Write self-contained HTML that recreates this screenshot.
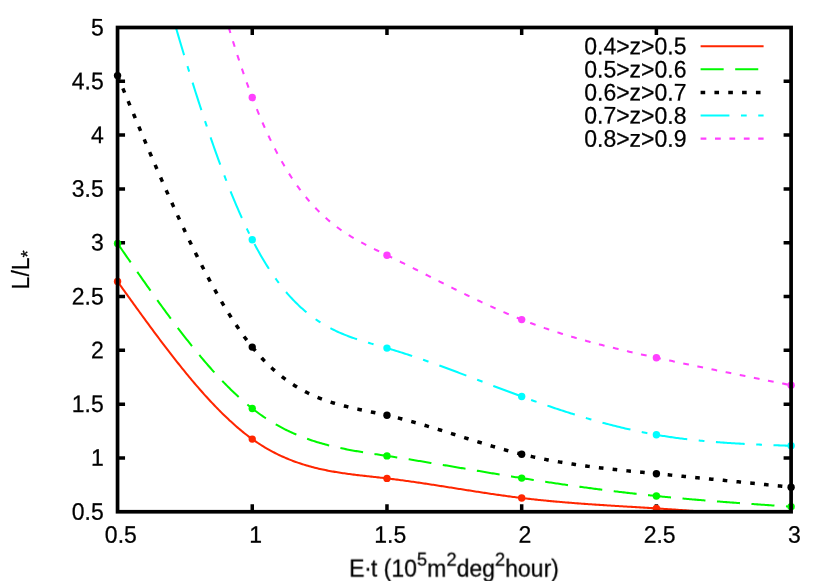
<!DOCTYPE html><html><head><meta charset="utf-8"><title>plot</title><style>
html,body{margin:0;padding:0;background:#fff}
body{width:830px;height:581px;position:relative;overflow:hidden;font-family:"Liberation Sans",sans-serif;color:#000}
.t{position:absolute;left:0;top:0;font-size:23px;line-height:30px;height:30px;white-space:nowrap;transform-origin:0 0;-webkit-text-stroke:0.25px #000}
.r{text-align:right;width:200px}
.c{text-align:center;width:200px}
sup,sub{font-size:0.8em;line-height:0;vertical-align:baseline;position:relative}
sup{top:-11.3px}sub{top:5.4px}
.d{letter-spacing:-1.27px;position:relative;top:-1.4px;left:-0.4px}
</style></head><body>
<svg width="830" height="581" viewBox="0 0 830 581" style="position:absolute;left:0;top:0">
<rect width="830" height="581" fill="#fff"/>
<path d="M117.55,457.94 h7.5 M791.1,457.94 h-7.5" stroke="#000" stroke-width="3.5"/>
<path d="M117.55,404.14 h7.5 M791.1,404.14 h-7.5" stroke="#000" stroke-width="3.5"/>
<path d="M117.55,350.33 h7.5 M791.1,350.33 h-7.5" stroke="#000" stroke-width="3.5"/>
<path d="M117.55,296.53 h7.5 M791.1,296.53 h-7.5" stroke="#000" stroke-width="3.5"/>
<path d="M117.55,242.72 h7.5 M791.1,242.72 h-7.5" stroke="#000" stroke-width="3.5"/>
<path d="M117.55,188.92 h7.5 M791.1,188.92 h-7.5" stroke="#000" stroke-width="3.5"/>
<path d="M117.55,135.11 h7.5 M791.1,135.11 h-7.5" stroke="#000" stroke-width="3.5"/>
<path d="M117.55,81.31 h7.5 M791.1,81.31 h-7.5" stroke="#000" stroke-width="3.5"/>
<path d="M252.26,511.75 v-7.5 M252.26,27.5 v7.5" stroke="#000" stroke-width="3.5"/>
<path d="M386.97,511.75 v-7.5 M386.97,27.5 v7.5" stroke="#000" stroke-width="3.5"/>
<path d="M521.68,511.75 v-7.5 M521.68,27.5 v7.5" stroke="#000" stroke-width="3.5"/>
<path d="M656.39,511.75 v-7.5 M656.39,27.5 v7.5" stroke="#000" stroke-width="3.5"/>
<path d="M117.55,281.50 L118.90,283.38 L120.25,285.27 L121.60,287.15 L122.95,289.04 L124.30,290.92 L125.65,292.80 L127.00,294.68 L128.35,296.56 L129.70,298.44 L131.05,300.31 L132.40,302.19 L133.75,304.06 L135.10,305.93 L136.45,307.80 L137.80,309.66 L139.15,311.52 L140.50,313.38 L141.85,315.24 L143.20,317.09 L144.55,318.94 L145.90,320.79 L147.25,322.63 L148.60,324.47 L149.95,326.30 L151.29,328.13 L152.64,329.95 L153.99,331.77 L155.34,333.59 L156.69,335.40 L158.04,337.20 L159.39,339.00 L160.74,340.80 L162.09,342.58 L163.44,344.36 L164.79,346.14 L166.14,347.91 L167.49,349.67 L168.84,351.42 L170.19,353.17 L171.54,354.91 L172.89,356.65 L174.24,358.37 L175.59,360.09 L176.94,361.80 L178.29,363.50 L179.64,365.20 L180.99,366.88 L182.34,368.56 L183.69,370.23 L185.04,371.89 L186.39,373.54 L187.74,375.18 L189.09,376.81 L190.44,378.43 L191.79,380.04 L193.14,381.64 L194.49,383.23 L195.84,384.81 L197.19,386.38 L198.54,387.94 L199.89,389.49 L201.24,391.03 L202.59,392.55 L203.94,394.07 L205.29,395.57 L206.64,397.06 L207.99,398.54 L209.34,400.00 L210.69,401.45 L212.04,402.89 L213.39,404.32 L214.74,405.74 L216.09,407.14 L217.44,408.53 L218.78,409.90 L220.13,411.26 L221.48,412.61 L222.83,413.94 L224.18,415.26 L225.53,416.56 L226.88,417.85 L228.23,419.12 L229.58,420.38 L230.93,421.62 L232.28,422.85 L233.63,424.06 L234.98,425.26 L236.33,426.44 L237.68,427.61 L239.03,428.75 L240.38,429.89 L241.73,431.00 L243.08,432.10 L244.43,433.18 L245.78,434.24 L247.13,435.29 L248.48,436.32 L249.83,437.33 L251.18,438.32 L252.53,439.29 L253.88,440.25 L255.23,441.19 L256.58,442.11 L257.93,443.01 L259.28,443.89 L260.63,444.76 L261.98,445.61 L263.33,446.45 L264.68,447.26 L266.03,448.06 L267.38,448.85 L268.73,449.62 L270.08,450.37 L271.43,451.10 L272.78,451.83 L274.13,452.53 L275.48,453.22 L276.83,453.90 L278.18,454.56 L279.53,455.21 L280.88,455.84 L282.23,456.46 L283.58,457.06 L284.93,457.66 L286.27,458.23 L287.62,458.80 L288.97,459.35 L290.32,459.89 L291.67,460.42 L293.02,460.93 L294.37,461.43 L295.72,461.92 L297.07,462.40 L298.42,462.87 L299.77,463.32 L301.12,463.77 L302.47,464.20 L303.82,464.63 L305.17,465.04 L306.52,465.44 L307.87,465.83 L309.22,466.21 L310.57,466.59 L311.92,466.95 L313.27,467.30 L314.62,467.65 L315.97,467.98 L317.32,468.31 L318.67,468.63 L320.02,468.94 L321.37,469.24 L322.72,469.54 L324.07,469.82 L325.42,470.10 L326.77,470.37 L328.12,470.64 L329.47,470.90 L330.82,471.15 L332.17,471.39 L333.52,471.63 L334.87,471.87 L336.22,472.09 L337.57,472.31 L338.92,472.53 L340.27,472.74 L341.62,472.95 L342.97,473.15 L344.32,473.35 L345.67,473.54 L347.02,473.73 L348.37,473.91 L349.72,474.09 L351.07,474.27 L352.42,474.44 L353.76,474.61 L355.11,474.78 L356.46,474.95 L357.81,475.11 L359.16,475.27 L360.51,475.43 L361.86,475.58 L363.21,475.74 L364.56,475.89 L365.91,476.04 L367.26,476.19 L368.61,476.34 L369.96,476.49 L371.31,476.64 L372.66,476.79 L374.01,476.94 L375.36,477.09 L376.71,477.23 L378.06,477.38 L379.41,477.53 L380.76,477.69 L382.11,477.84 L383.46,477.99 L384.81,478.15 L386.16,478.30 L387.51,478.46 L388.86,478.63 L390.21,478.79 L391.56,478.95 L392.91,479.12 L394.26,479.29 L395.61,479.46 L396.96,479.64 L398.31,479.81 L399.66,479.99 L401.01,480.17 L402.36,480.35 L403.71,480.53 L405.06,480.71 L406.41,480.90 L407.76,481.08 L409.11,481.27 L410.46,481.46 L411.81,481.65 L413.16,481.84 L414.51,482.04 L415.86,482.23 L417.21,482.43 L418.56,482.62 L419.91,482.82 L421.25,483.02 L422.60,483.22 L423.95,483.42 L425.30,483.63 L426.65,483.83 L428.00,484.03 L429.35,484.24 L430.70,484.45 L432.05,484.65 L433.40,484.86 L434.75,485.07 L436.10,485.28 L437.45,485.49 L438.80,485.70 L440.15,485.91 L441.50,486.12 L442.85,486.33 L444.20,486.54 L445.55,486.75 L446.90,486.97 L448.25,487.18 L449.60,487.39 L450.95,487.61 L452.30,487.82 L453.65,488.03 L455.00,488.25 L456.35,488.46 L457.70,488.68 L459.05,488.89 L460.40,489.10 L461.75,489.32 L463.10,489.53 L464.45,489.74 L465.80,489.95 L467.15,490.17 L468.50,490.38 L469.85,490.59 L471.20,490.80 L472.55,491.01 L473.90,491.22 L475.25,491.43 L476.60,491.64 L477.95,491.85 L479.30,492.06 L480.65,492.27 L482.00,492.47 L483.35,492.68 L484.70,492.88 L486.05,493.09 L487.40,493.29 L488.74,493.49 L490.09,493.69 L491.44,493.89 L492.79,494.09 L494.14,494.29 L495.49,494.48 L496.84,494.68 L498.19,494.87 L499.54,495.07 L500.89,495.26 L502.24,495.45 L503.59,495.63 L504.94,495.82 L506.29,496.01 L507.64,496.19 L508.99,496.37 L510.34,496.55 L511.69,496.73 L513.04,496.91 L514.39,497.09 L515.74,497.26 L517.09,497.43 L518.44,497.60 L519.79,497.77 L521.14,497.93 L522.49,498.10 L523.84,498.26 L525.19,498.42 L526.54,498.58 L527.89,498.73 L529.24,498.89 L530.59,499.04 L531.94,499.19 L533.29,499.34 L534.64,499.49 L535.99,499.63 L537.34,499.77 L538.69,499.92 L540.04,500.05 L541.39,500.19 L542.74,500.33 L544.09,500.46 L545.44,500.60 L546.79,500.73 L548.14,500.86 L549.49,500.99 L550.84,501.11 L552.19,501.24 L553.54,501.36 L554.89,501.48 L556.23,501.61 L557.58,501.73 L558.93,501.84 L560.28,501.96 L561.63,502.08 L562.98,502.19 L564.33,502.30 L565.68,502.42 L567.03,502.53 L568.38,502.64 L569.73,502.74 L571.08,502.85 L572.43,502.96 L573.78,503.06 L575.13,503.16 L576.48,503.27 L577.83,503.37 L579.18,503.47 L580.53,503.57 L581.88,503.67 L583.23,503.77 L584.58,503.86 L585.93,503.96 L587.28,504.05 L588.63,504.15 L589.98,504.24 L591.33,504.34 L592.68,504.43 L594.03,504.52 L595.38,504.61 L596.73,504.70 L598.08,504.79 L599.43,504.88 L600.78,504.97 L602.13,505.05 L603.48,505.14 L604.83,505.23 L606.18,505.31 L607.53,505.40 L608.88,505.49 L610.23,505.57 L611.58,505.65 L612.93,505.74 L614.28,505.82 L615.63,505.91 L616.98,505.99 L618.33,506.07 L619.68,506.15 L621.03,506.24 L622.38,506.32 L623.72,506.40 L625.07,506.48 L626.42,506.56 L627.77,506.65 L629.12,506.73 L630.47,506.81 L631.82,506.89 L633.17,506.97 L634.52,507.05 L635.87,507.13 L637.22,507.22 L638.57,507.30 L639.92,507.38 L641.27,507.46 L642.62,507.54 L643.97,507.63 L645.32,507.71 L646.67,507.79 L648.02,507.88 L649.37,507.96 L650.72,508.04 L652.07,508.13 L653.42,508.21 L654.77,508.30 L656.12,508.38 L657.47,508.47 L658.82,508.56 L660.17,508.64 L661.52,508.73 L662.87,508.82 L664.22,508.91 L665.57,508.99 L666.92,509.08 L668.27,509.17 L669.62,509.26 L670.97,509.35 L672.32,509.44 L673.67,509.53 L675.02,509.63 L676.37,509.72 L677.72,509.81 L679.07,509.90 L680.42,510.00 L681.77,510.09 L683.12,510.18 L684.47,510.28 L685.82,510.37 L687.17,510.47 L688.52,510.56 L689.87,510.66 L691.21,510.75 L692.56,510.85 L693.91,510.95 L695.26,511.04 L696.61,511.14 L697.96,511.24 L699.31,511.34 L700.66,511.44 L702.01,511.53 L703.36,511.63 L704.71,511.73 L704.95,511.75" fill="none" stroke="#ff2600" stroke-width="2.05"/>
<path d="M117.55,243.40 L118.90,245.35 L120.25,247.31 L121.60,249.26 L122.95,251.21 L124.30,253.16 L125.65,255.11 L127.00,257.06 L128.35,259.01 L129.70,260.95 L131.05,262.90 L132.40,264.84 L133.75,266.78 L135.10,268.72 L136.45,270.66 L137.80,272.59 L139.15,274.52 L140.50,276.45 L141.85,278.37 L143.20,280.30 L144.55,282.21 L145.90,284.13 L147.25,286.04 L148.60,287.95 L149.95,289.85 L151.29,291.75 L152.64,293.64 L153.99,295.53 L155.34,297.42 L156.69,299.30 L158.04,301.17 L159.39,303.04 L160.74,304.90 L162.09,306.76 L163.44,308.61 L164.79,310.46 L166.14,312.30 L167.49,314.13 L168.84,315.96 L170.19,317.78 L171.54,319.59 L172.89,321.39 L174.24,323.19 L175.59,324.98 L176.94,326.77 L178.29,328.54 L179.64,330.31 L180.99,332.07 L182.34,333.82 L183.69,335.56 L185.04,337.29 L186.39,339.01 L187.74,340.73 L189.09,342.43 L190.44,344.13 L191.79,345.81 L193.14,347.49 L194.49,349.15 L195.84,350.81 L197.19,352.46 L198.54,354.09 L199.89,355.71 L201.24,357.33 L202.59,358.93 L203.94,360.52 L205.29,362.10 L206.64,363.66 L207.99,365.22 L209.34,366.76 L210.69,368.29 L212.04,369.81 L213.39,371.32 L214.74,372.81 L216.09,374.29 L217.44,375.76 L218.78,377.21 L220.13,378.65 L221.48,380.08 L222.83,381.49 L224.18,382.89 L225.53,384.28 L226.88,385.65 L228.23,387.00 L229.58,388.34 L230.93,389.67 L232.28,390.98 L233.63,392.28 L234.98,393.56 L236.33,394.82 L237.68,396.07 L239.03,397.30 L240.38,398.52 L241.73,399.72 L243.08,400.90 L244.43,402.07 L245.78,403.22 L247.13,404.35 L248.48,405.47 L249.83,406.57 L251.18,407.65 L252.53,408.71 L253.88,409.76 L255.23,410.78 L256.58,411.79 L257.93,412.79 L259.28,413.76 L260.63,414.72 L261.98,415.66 L263.33,416.59 L264.68,417.50 L266.03,418.39 L267.38,419.26 L268.73,420.12 L270.08,420.97 L271.43,421.80 L272.78,422.61 L274.13,423.41 L275.48,424.20 L276.83,424.97 L278.18,425.72 L279.53,426.46 L280.88,427.19 L282.23,427.90 L283.58,428.60 L284.93,429.29 L286.27,429.96 L287.62,430.62 L288.97,431.26 L290.32,431.90 L291.67,432.52 L293.02,433.12 L294.37,433.72 L295.72,434.30 L297.07,434.87 L298.42,435.43 L299.77,435.98 L301.12,436.52 L302.47,437.05 L303.82,437.56 L305.17,438.07 L306.52,438.56 L307.87,439.04 L309.22,439.52 L310.57,439.98 L311.92,440.43 L313.27,440.88 L314.62,441.31 L315.97,441.74 L317.32,442.15 L318.67,442.56 L320.02,442.96 L321.37,443.35 L322.72,443.73 L324.07,444.10 L325.42,444.47 L326.77,444.83 L328.12,445.18 L329.47,445.52 L330.82,445.86 L332.17,446.19 L333.52,446.51 L334.87,446.82 L336.22,447.13 L337.57,447.44 L338.92,447.73 L340.27,448.02 L341.62,448.31 L342.97,448.59 L344.32,448.86 L345.67,449.13 L347.02,449.40 L348.37,449.66 L349.72,449.91 L351.07,450.16 L352.42,450.41 L353.76,450.65 L355.11,450.89 L356.46,451.13 L357.81,451.36 L359.16,451.59 L360.51,451.81 L361.86,452.04 L363.21,452.26 L364.56,452.47 L365.91,452.69 L367.26,452.90 L368.61,453.11 L369.96,453.32 L371.31,453.53 L372.66,453.74 L374.01,453.95 L375.36,454.15 L376.71,454.35 L378.06,454.56 L379.41,454.76 L380.76,454.96 L382.11,455.17 L383.46,455.37 L384.81,455.57 L386.16,455.78 L387.51,455.98 L388.86,456.19 L390.21,456.39 L391.56,456.60 L392.91,456.81 L394.26,457.02 L395.61,457.23 L396.96,457.44 L398.31,457.65 L399.66,457.86 L401.01,458.07 L402.36,458.29 L403.71,458.50 L405.06,458.71 L406.41,458.93 L407.76,459.14 L409.11,459.36 L410.46,459.58 L411.81,459.79 L413.16,460.01 L414.51,460.23 L415.86,460.45 L417.21,460.67 L418.56,460.89 L419.91,461.11 L421.25,461.33 L422.60,461.55 L423.95,461.78 L425.30,462.00 L426.65,462.22 L428.00,462.45 L429.35,462.67 L430.70,462.89 L432.05,463.12 L433.40,463.34 L434.75,463.57 L436.10,463.79 L437.45,464.02 L438.80,464.25 L440.15,464.47 L441.50,464.70 L442.85,464.93 L444.20,465.15 L445.55,465.38 L446.90,465.61 L448.25,465.84 L449.60,466.06 L450.95,466.29 L452.30,466.52 L453.65,466.75 L455.00,466.98 L456.35,467.21 L457.70,467.44 L459.05,467.66 L460.40,467.89 L461.75,468.12 L463.10,468.35 L464.45,468.58 L465.80,468.81 L467.15,469.04 L468.50,469.27 L469.85,469.50 L471.20,469.72 L472.55,469.95 L473.90,470.18 L475.25,470.41 L476.60,470.64 L477.95,470.87 L479.30,471.10 L480.65,471.32 L482.00,471.55 L483.35,471.78 L484.70,472.01 L486.05,472.23 L487.40,472.46 L488.74,472.69 L490.09,472.91 L491.44,473.14 L492.79,473.37 L494.14,473.59 L495.49,473.82 L496.84,474.04 L498.19,474.27 L499.54,474.49 L500.89,474.71 L502.24,474.94 L503.59,475.16 L504.94,475.38 L506.29,475.60 L507.64,475.83 L508.99,476.05 L510.34,476.27 L511.69,476.49 L513.04,476.71 L514.39,476.93 L515.74,477.15 L517.09,477.36 L518.44,477.58 L519.79,477.80 L521.14,478.01 L522.49,478.23 L523.84,478.44 L525.19,478.66 L526.54,478.87 L527.89,479.09 L529.24,479.30 L530.59,479.51 L531.94,479.72 L533.29,479.93 L534.64,480.14 L535.99,480.35 L537.34,480.56 L538.69,480.77 L540.04,480.97 L541.39,481.18 L542.74,481.39 L544.09,481.59 L545.44,481.80 L546.79,482.00 L548.14,482.20 L549.49,482.40 L550.84,482.61 L552.19,482.81 L553.54,483.01 L554.89,483.21 L556.23,483.41 L557.58,483.60 L558.93,483.80 L560.28,484.00 L561.63,484.20 L562.98,484.39 L564.33,484.59 L565.68,484.78 L567.03,484.97 L568.38,485.17 L569.73,485.36 L571.08,485.55 L572.43,485.74 L573.78,485.93 L575.13,486.12 L576.48,486.30 L577.83,486.49 L579.18,486.68 L580.53,486.86 L581.88,487.05 L583.23,487.23 L584.58,487.42 L585.93,487.60 L587.28,487.78 L588.63,487.96 L589.98,488.14 L591.33,488.32 L592.68,488.50 L594.03,488.68 L595.38,488.86 L596.73,489.03 L598.08,489.21 L599.43,489.39 L600.78,489.56 L602.13,489.73 L603.48,489.91 L604.83,490.08 L606.18,490.25 L607.53,490.42 L608.88,490.59 L610.23,490.76 L611.58,490.92 L612.93,491.09 L614.28,491.26 L615.63,491.42 L616.98,491.59 L618.33,491.75 L619.68,491.91 L621.03,492.07 L622.38,492.23 L623.72,492.39 L625.07,492.55 L626.42,492.71 L627.77,492.87 L629.12,493.03 L630.47,493.18 L631.82,493.34 L633.17,493.49 L634.52,493.64 L635.87,493.80 L637.22,493.95 L638.57,494.10 L639.92,494.25 L641.27,494.40 L642.62,494.54 L643.97,494.69 L645.32,494.84 L646.67,494.98 L648.02,495.13 L649.37,495.27 L650.72,495.41 L652.07,495.55 L653.42,495.69 L654.77,495.83 L656.12,495.97 L657.47,496.11 L658.82,496.25 L660.17,496.38 L661.52,496.52 L662.87,496.65 L664.22,496.79 L665.57,496.92 L666.92,497.05 L668.27,497.18 L669.62,497.31 L670.97,497.44 L672.32,497.57 L673.67,497.69 L675.02,497.82 L676.37,497.95 L677.72,498.07 L679.07,498.20 L680.42,498.32 L681.77,498.44 L683.12,498.56 L684.47,498.69 L685.82,498.81 L687.17,498.93 L688.52,499.04 L689.87,499.16 L691.21,499.28 L692.56,499.40 L693.91,499.51 L695.26,499.63 L696.61,499.74 L697.96,499.86 L699.31,499.97 L700.66,500.08 L702.01,500.20 L703.36,500.31 L704.71,500.42 L706.06,500.53 L707.41,500.64 L708.76,500.75 L710.11,500.86 L711.46,500.97 L712.81,501.07 L714.16,501.18 L715.51,501.29 L716.86,501.39 L718.21,501.50 L719.56,501.60 L720.91,501.71 L722.26,501.81 L723.61,501.92 L724.96,502.02 L726.31,502.12 L727.66,502.23 L729.01,502.33 L730.36,502.43 L731.71,502.53 L733.06,502.63 L734.41,502.73 L735.76,502.83 L737.11,502.93 L738.46,503.03 L739.81,503.13 L741.16,503.23 L742.51,503.32 L743.86,503.42 L745.21,503.52 L746.56,503.62 L747.91,503.71 L749.26,503.81 L750.61,503.90 L751.96,504.00 L753.31,504.10 L754.66,504.19 L756.01,504.29 L757.36,504.38 L758.70,504.48 L760.05,504.57 L761.40,504.66 L762.75,504.76 L764.10,504.85 L765.45,504.95 L766.80,505.04 L768.15,505.13 L769.50,505.23 L770.85,505.32 L772.20,505.41 L773.55,505.50 L774.90,505.60 L776.25,505.69 L777.60,505.78 L778.95,505.87 L780.30,505.96 L781.65,506.06 L783.00,506.15 L784.35,506.24 L785.70,506.33 L787.05,506.42 L788.40,506.52 L789.75,506.61 L791.10,506.70" fill="none" stroke="#00f900" stroke-width="2.05" stroke-dasharray="23.06 11.53"/>
<path d="M117.55,75.60 L118.90,78.85 L120.25,82.10 L121.60,85.34 L122.95,88.59 L124.30,91.84 L125.65,95.08 L127.00,98.32 L128.35,101.56 L129.70,104.80 L131.05,108.03 L132.40,111.26 L133.75,114.49 L135.10,117.72 L136.45,120.94 L137.80,124.15 L139.15,127.36 L140.50,130.57 L141.85,133.77 L143.20,136.96 L144.55,140.15 L145.90,143.33 L147.25,146.51 L148.60,149.67 L149.95,152.83 L151.29,155.99 L152.64,159.13 L153.99,162.27 L155.34,165.40 L156.69,168.52 L158.04,171.63 L159.39,174.73 L160.74,177.82 L162.09,180.90 L163.44,183.97 L164.79,187.03 L166.14,190.08 L167.49,193.11 L168.84,196.14 L170.19,199.15 L171.54,202.15 L172.89,205.14 L174.24,208.11 L175.59,211.07 L176.94,214.02 L178.29,216.96 L179.64,219.87 L180.99,222.78 L182.34,225.67 L183.69,228.54 L185.04,231.40 L186.39,234.25 L187.74,237.07 L189.09,239.88 L190.44,242.68 L191.79,245.45 L193.14,248.21 L194.49,250.95 L195.84,253.67 L197.19,256.38 L198.54,259.06 L199.89,261.73 L201.24,264.38 L202.59,267.00 L203.94,269.61 L205.29,272.20 L206.64,274.76 L207.99,277.31 L209.34,279.83 L210.69,282.33 L212.04,284.81 L213.39,287.27 L214.74,289.71 L216.09,292.12 L217.44,294.51 L218.78,296.87 L220.13,299.22 L221.48,301.53 L222.83,303.83 L224.18,306.10 L225.53,308.34 L226.88,310.56 L228.23,312.75 L229.58,314.91 L230.93,317.05 L232.28,319.17 L233.63,321.25 L234.98,323.31 L236.33,325.34 L237.68,327.34 L239.03,329.32 L240.38,331.26 L241.73,333.18 L243.08,335.07 L244.43,336.92 L245.78,338.75 L247.13,340.55 L248.48,342.32 L249.83,344.05 L251.18,345.76 L252.53,347.43 L253.88,349.07 L255.23,350.68 L256.58,352.26 L257.93,353.81 L259.28,355.33 L260.63,356.82 L261.98,358.28 L263.33,359.71 L264.68,361.11 L266.03,362.49 L267.38,363.83 L268.73,365.15 L270.08,366.44 L271.43,367.70 L272.78,368.94 L274.13,370.15 L275.48,371.33 L276.83,372.49 L278.18,373.63 L279.53,374.74 L280.88,375.82 L282.23,376.88 L283.58,377.92 L284.93,378.93 L286.27,379.92 L287.62,380.89 L288.97,381.84 L290.32,382.76 L291.67,383.66 L293.02,384.54 L294.37,385.41 L295.72,386.25 L297.07,387.07 L298.42,387.87 L299.77,388.65 L301.12,389.41 L302.47,390.15 L303.82,390.88 L305.17,391.59 L306.52,392.28 L307.87,392.95 L309.22,393.61 L310.57,394.25 L311.92,394.87 L313.27,395.48 L314.62,396.07 L315.97,396.65 L317.32,397.21 L318.67,397.76 L320.02,398.30 L321.37,398.82 L322.72,399.33 L324.07,399.82 L325.42,400.30 L326.77,400.78 L328.12,401.24 L329.47,401.68 L330.82,402.12 L332.17,402.55 L333.52,402.96 L334.87,403.37 L336.22,403.77 L337.57,404.16 L338.92,404.54 L340.27,404.91 L341.62,405.27 L342.97,405.62 L344.32,405.97 L345.67,406.31 L347.02,406.65 L348.37,406.98 L349.72,407.30 L351.07,407.62 L352.42,407.93 L353.76,408.23 L355.11,408.54 L356.46,408.84 L357.81,409.13 L359.16,409.42 L360.51,409.71 L361.86,410.00 L363.21,410.28 L364.56,410.56 L365.91,410.84 L367.26,411.12 L368.61,411.40 L369.96,411.68 L371.31,411.96 L372.66,412.23 L374.01,412.51 L375.36,412.79 L376.71,413.08 L378.06,413.36 L379.41,413.64 L380.76,413.93 L382.11,414.22 L383.46,414.52 L384.81,414.82 L386.16,415.12 L387.51,415.42 L388.86,415.73 L390.21,416.05 L391.56,416.37 L392.91,416.69 L394.26,417.02 L395.61,417.35 L396.96,417.69 L398.31,418.03 L399.66,418.37 L401.01,418.72 L402.36,419.07 L403.71,419.42 L405.06,419.78 L406.41,420.14 L407.76,420.51 L409.11,420.87 L410.46,421.25 L411.81,421.62 L413.16,422.00 L414.51,422.38 L415.86,422.76 L417.21,423.14 L418.56,423.53 L419.91,423.92 L421.25,424.32 L422.60,424.71 L423.95,425.11 L425.30,425.51 L426.65,425.91 L428.00,426.31 L429.35,426.72 L430.70,427.13 L432.05,427.54 L433.40,427.95 L434.75,428.36 L436.10,428.77 L437.45,429.19 L438.80,429.61 L440.15,430.02 L441.50,430.44 L442.85,430.86 L444.20,431.28 L445.55,431.71 L446.90,432.13 L448.25,432.55 L449.60,432.98 L450.95,433.40 L452.30,433.83 L453.65,434.25 L455.00,434.68 L456.35,435.10 L457.70,435.53 L459.05,435.95 L460.40,436.38 L461.75,436.81 L463.10,437.23 L464.45,437.66 L465.80,438.08 L467.15,438.51 L468.50,438.93 L469.85,439.35 L471.20,439.77 L472.55,440.20 L473.90,440.62 L475.25,441.04 L476.60,441.45 L477.95,441.87 L479.30,442.29 L480.65,442.70 L482.00,443.11 L483.35,443.53 L484.70,443.94 L486.05,444.34 L487.40,444.75 L488.74,445.15 L490.09,445.56 L491.44,445.96 L492.79,446.36 L494.14,446.75 L495.49,447.15 L496.84,447.54 L498.19,447.93 L499.54,448.31 L500.89,448.69 L502.24,449.08 L503.59,449.45 L504.94,449.83 L506.29,450.20 L507.64,450.57 L508.99,450.93 L510.34,451.30 L511.69,451.66 L513.04,452.01 L514.39,452.36 L515.74,452.71 L517.09,453.06 L518.44,453.40 L519.79,453.73 L521.14,454.07 L522.49,454.40 L523.84,454.72 L525.19,455.04 L526.54,455.36 L527.89,455.67 L529.24,455.98 L530.59,456.29 L531.94,456.59 L533.29,456.89 L534.64,457.18 L535.99,457.47 L537.34,457.76 L538.69,458.04 L540.04,458.32 L541.39,458.60 L542.74,458.87 L544.09,459.14 L545.44,459.40 L546.79,459.67 L548.14,459.92 L549.49,460.18 L550.84,460.43 L552.19,460.68 L553.54,460.93 L554.89,461.17 L556.23,461.41 L557.58,461.65 L558.93,461.88 L560.28,462.11 L561.63,462.34 L562.98,462.57 L564.33,462.79 L565.68,463.01 L567.03,463.23 L568.38,463.44 L569.73,463.65 L571.08,463.86 L572.43,464.07 L573.78,464.27 L575.13,464.48 L576.48,464.68 L577.83,464.87 L579.18,465.07 L580.53,465.26 L581.88,465.45 L583.23,465.64 L584.58,465.82 L585.93,466.01 L587.28,466.19 L588.63,466.37 L589.98,466.55 L591.33,466.72 L592.68,466.89 L594.03,467.07 L595.38,467.24 L596.73,467.40 L598.08,467.57 L599.43,467.74 L600.78,467.90 L602.13,468.06 L603.48,468.22 L604.83,468.38 L606.18,468.53 L607.53,468.69 L608.88,468.84 L610.23,469.00 L611.58,469.15 L612.93,469.30 L614.28,469.45 L615.63,469.59 L616.98,469.74 L618.33,469.89 L619.68,470.03 L621.03,470.17 L622.38,470.32 L623.72,470.46 L625.07,470.60 L626.42,470.74 L627.77,470.88 L629.12,471.01 L630.47,471.15 L631.82,471.29 L633.17,471.42 L634.52,471.56 L635.87,471.69 L637.22,471.83 L638.57,471.96 L639.92,472.09 L641.27,472.23 L642.62,472.36 L643.97,472.49 L645.32,472.62 L646.67,472.75 L648.02,472.89 L649.37,473.02 L650.72,473.15 L652.07,473.28 L653.42,473.41 L654.77,473.54 L656.12,473.67 L657.47,473.81 L658.82,473.94 L660.17,474.07 L661.52,474.20 L662.87,474.33 L664.22,474.46 L665.57,474.60 L666.92,474.73 L668.27,474.86 L669.62,474.99 L670.97,475.13 L672.32,475.26 L673.67,475.39 L675.02,475.52 L676.37,475.66 L677.72,475.79 L679.07,475.92 L680.42,476.06 L681.77,476.19 L683.12,476.32 L684.47,476.46 L685.82,476.59 L687.17,476.72 L688.52,476.86 L689.87,476.99 L691.21,477.12 L692.56,477.26 L693.91,477.39 L695.26,477.53 L696.61,477.66 L697.96,477.80 L699.31,477.93 L700.66,478.06 L702.01,478.20 L703.36,478.33 L704.71,478.47 L706.06,478.60 L707.41,478.74 L708.76,478.87 L710.11,479.01 L711.46,479.14 L712.81,479.28 L714.16,479.41 L715.51,479.55 L716.86,479.68 L718.21,479.82 L719.56,479.96 L720.91,480.09 L722.26,480.23 L723.61,480.36 L724.96,480.50 L726.31,480.63 L727.66,480.77 L729.01,480.91 L730.36,481.04 L731.71,481.18 L733.06,481.31 L734.41,481.45 L735.76,481.59 L737.11,481.72 L738.46,481.86 L739.81,482.00 L741.16,482.13 L742.51,482.27 L743.86,482.41 L745.21,482.54 L746.56,482.68 L747.91,482.81 L749.26,482.95 L750.61,483.09 L751.96,483.22 L753.31,483.36 L754.66,483.50 L756.01,483.64 L757.36,483.77 L758.70,483.91 L760.05,484.05 L761.40,484.18 L762.75,484.32 L764.10,484.46 L765.45,484.59 L766.80,484.73 L768.15,484.87 L769.50,485.00 L770.85,485.14 L772.20,485.28 L773.55,485.42 L774.90,485.55 L776.25,485.69 L777.60,485.83 L778.95,485.96 L780.30,486.10 L781.65,486.24 L783.00,486.38 L784.35,486.51 L785.70,486.65 L787.05,486.79 L788.40,486.93 L789.75,487.06 L791.10,487.20" fill="none" stroke="#000000" stroke-width="3.5" stroke-dasharray="4.61 9.22"/>
<path d="M175.90,27.50 L176.94,31.04 L178.29,35.62 L179.64,40.17 L180.99,44.71 L182.34,49.22 L183.69,53.70 L185.04,58.16 L186.39,62.60 L187.74,67.01 L189.09,71.40 L190.44,75.76 L191.79,80.10 L193.14,84.41 L194.49,88.69 L195.84,92.95 L197.19,97.17 L198.54,101.37 L199.89,105.54 L201.24,109.68 L202.59,113.79 L203.94,117.86 L205.29,121.91 L206.64,125.93 L207.99,129.91 L209.34,133.86 L210.69,137.78 L212.04,141.66 L213.39,145.51 L214.74,149.33 L216.09,153.11 L217.44,156.86 L218.78,160.57 L220.13,164.24 L221.48,167.88 L222.83,171.48 L224.18,175.04 L225.53,178.56 L226.88,182.05 L228.23,185.49 L229.58,188.90 L230.93,192.26 L232.28,195.59 L233.63,198.87 L234.98,202.11 L236.33,205.31 L237.68,208.46 L239.03,211.58 L240.38,214.65 L241.73,217.67 L243.08,220.65 L244.43,223.59 L245.78,226.48 L247.13,229.32 L248.48,232.12 L249.83,234.87 L251.18,237.57 L252.53,240.23 L253.88,242.83 L255.23,245.39 L256.58,247.90 L257.93,250.37 L259.28,252.79 L260.63,255.16 L261.98,257.49 L263.33,259.77 L264.68,262.01 L266.03,264.20 L267.38,266.35 L268.73,268.46 L270.08,270.53 L271.43,272.55 L272.78,274.54 L274.13,276.48 L275.48,278.39 L276.83,280.25 L278.18,282.08 L279.53,283.86 L280.88,285.61 L282.23,287.32 L283.58,289.00 L284.93,290.64 L286.27,292.24 L287.62,293.81 L288.97,295.34 L290.32,296.84 L291.67,298.30 L293.02,299.73 L294.37,301.13 L295.72,302.50 L297.07,303.83 L298.42,305.13 L299.77,306.41 L301.12,307.65 L302.47,308.86 L303.82,310.05 L305.17,311.20 L306.52,312.33 L307.87,313.43 L309.22,314.50 L310.57,315.55 L311.92,316.57 L313.27,317.56 L314.62,318.53 L315.97,319.48 L317.32,320.40 L318.67,321.29 L320.02,322.17 L321.37,323.02 L322.72,323.85 L324.07,324.66 L325.42,325.45 L326.77,326.22 L328.12,326.97 L329.47,327.70 L330.82,328.41 L332.17,329.10 L333.52,329.78 L334.87,330.44 L336.22,331.08 L337.57,331.70 L338.92,332.31 L340.27,332.91 L341.62,333.49 L342.97,334.05 L344.32,334.60 L345.67,335.14 L347.02,335.67 L348.37,336.19 L349.72,336.69 L351.07,337.18 L352.42,337.66 L353.76,338.14 L355.11,338.60 L356.46,339.05 L357.81,339.50 L359.16,339.94 L360.51,340.37 L361.86,340.79 L363.21,341.21 L364.56,341.62 L365.91,342.03 L367.26,342.43 L368.61,342.83 L369.96,343.22 L371.31,343.62 L372.66,344.00 L374.01,344.39 L375.36,344.78 L376.71,345.16 L378.06,345.54 L379.41,345.93 L380.76,346.31 L382.11,346.70 L383.46,347.08 L384.81,347.47 L386.16,347.86 L387.51,348.26 L388.86,348.66 L390.21,349.06 L391.56,349.46 L392.91,349.87 L394.26,350.28 L395.61,350.69 L396.96,351.11 L398.31,351.53 L399.66,351.96 L401.01,352.38 L402.36,352.81 L403.71,353.24 L405.06,353.68 L406.41,354.12 L407.76,354.56 L409.11,355.00 L410.46,355.45 L411.81,355.89 L413.16,356.35 L414.51,356.80 L415.86,357.25 L417.21,357.71 L418.56,358.17 L419.91,358.64 L421.25,359.10 L422.60,359.57 L423.95,360.04 L425.30,360.51 L426.65,360.98 L428.00,361.46 L429.35,361.94 L430.70,362.42 L432.05,362.90 L433.40,363.38 L434.75,363.87 L436.10,364.35 L437.45,364.84 L438.80,365.33 L440.15,365.82 L441.50,366.31 L442.85,366.81 L444.20,367.30 L445.55,367.80 L446.90,368.30 L448.25,368.80 L449.60,369.30 L450.95,369.80 L452.30,370.30 L453.65,370.81 L455.00,371.31 L456.35,371.82 L457.70,372.33 L459.05,372.84 L460.40,373.34 L461.75,373.85 L463.10,374.36 L464.45,374.88 L465.80,375.39 L467.15,375.90 L468.50,376.41 L469.85,376.92 L471.20,377.44 L472.55,377.95 L473.90,378.47 L475.25,378.98 L476.60,379.50 L477.95,380.01 L479.30,380.53 L480.65,381.04 L482.00,381.56 L483.35,382.07 L484.70,382.59 L486.05,383.10 L487.40,383.62 L488.74,384.13 L490.09,384.65 L491.44,385.16 L492.79,385.68 L494.14,386.19 L495.49,386.70 L496.84,387.22 L498.19,387.73 L499.54,388.24 L500.89,388.75 L502.24,389.26 L503.59,389.77 L504.94,390.28 L506.29,390.79 L507.64,391.29 L508.99,391.80 L510.34,392.30 L511.69,392.81 L513.04,393.31 L514.39,393.81 L515.74,394.31 L517.09,394.81 L518.44,395.31 L519.79,395.81 L521.14,396.30 L522.49,396.80 L523.84,397.29 L525.19,397.78 L526.54,398.27 L527.89,398.76 L529.24,399.24 L530.59,399.73 L531.94,400.21 L533.29,400.69 L534.64,401.17 L535.99,401.65 L537.34,402.13 L538.69,402.60 L540.04,403.08 L541.39,403.55 L542.74,404.02 L544.09,404.49 L545.44,404.95 L546.79,405.42 L548.14,405.88 L549.49,406.34 L550.84,406.80 L552.19,407.25 L553.54,407.71 L554.89,408.16 L556.23,408.61 L557.58,409.06 L558.93,409.51 L560.28,409.95 L561.63,410.39 L562.98,410.83 L564.33,411.27 L565.68,411.71 L567.03,412.14 L568.38,412.57 L569.73,413.00 L571.08,413.43 L572.43,413.85 L573.78,414.28 L575.13,414.70 L576.48,415.11 L577.83,415.53 L579.18,415.94 L580.53,416.35 L581.88,416.76 L583.23,417.17 L584.58,417.57 L585.93,417.97 L587.28,418.37 L588.63,418.76 L589.98,419.16 L591.33,419.55 L592.68,419.93 L594.03,420.32 L595.38,420.70 L596.73,421.08 L598.08,421.46 L599.43,421.83 L600.78,422.20 L602.13,422.57 L603.48,422.94 L604.83,423.30 L606.18,423.66 L607.53,424.02 L608.88,424.37 L610.23,424.72 L611.58,425.07 L612.93,425.42 L614.28,425.76 L615.63,426.10 L616.98,426.43 L618.33,426.77 L619.68,427.10 L621.03,427.42 L622.38,427.75 L623.72,428.07 L625.07,428.39 L626.42,428.70 L627.77,429.01 L629.12,429.32 L630.47,429.62 L631.82,429.92 L633.17,430.22 L634.52,430.52 L635.87,430.81 L637.22,431.10 L638.57,431.38 L639.92,431.66 L641.27,431.94 L642.62,432.21 L643.97,432.48 L645.32,432.75 L646.67,433.01 L648.02,433.27 L649.37,433.53 L650.72,433.78 L652.07,434.03 L653.42,434.27 L654.77,434.52 L656.12,434.75 L657.47,434.99 L658.82,435.22 L660.17,435.44 L661.52,435.67 L662.87,435.89 L664.22,436.10 L665.57,436.31 L666.92,436.52 L668.27,436.73 L669.62,436.93 L670.97,437.13 L672.32,437.32 L673.67,437.51 L675.02,437.70 L676.37,437.89 L677.72,438.07 L679.07,438.25 L680.42,438.42 L681.77,438.60 L683.12,438.77 L684.47,438.93 L685.82,439.10 L687.17,439.26 L688.52,439.42 L689.87,439.57 L691.21,439.72 L692.56,439.87 L693.91,440.02 L695.26,440.16 L696.61,440.30 L697.96,440.44 L699.31,440.58 L700.66,440.71 L702.01,440.84 L703.36,440.97 L704.71,441.10 L706.06,441.22 L707.41,441.34 L708.76,441.46 L710.11,441.58 L711.46,441.69 L712.81,441.80 L714.16,441.91 L715.51,442.02 L716.86,442.13 L718.21,442.23 L719.56,442.33 L720.91,442.43 L722.26,442.53 L723.61,442.63 L724.96,442.72 L726.31,442.81 L727.66,442.90 L729.01,442.99 L730.36,443.08 L731.71,443.16 L733.06,443.25 L734.41,443.33 L735.76,443.41 L737.11,443.49 L738.46,443.56 L739.81,443.64 L741.16,443.71 L742.51,443.79 L743.86,443.86 L745.21,443.93 L746.56,444.00 L747.91,444.06 L749.26,444.13 L750.61,444.20 L751.96,444.26 L753.31,444.32 L754.66,444.39 L756.01,444.45 L757.36,444.51 L758.70,444.57 L760.05,444.62 L761.40,444.68 L762.75,444.74 L764.10,444.79 L765.45,444.85 L766.80,444.90 L768.15,444.96 L769.50,445.01 L770.85,445.06 L772.20,445.11 L773.55,445.16 L774.90,445.22 L776.25,445.27 L777.60,445.32 L778.95,445.37 L780.30,445.41 L781.65,445.46 L783.00,445.51 L784.35,445.56 L785.70,445.61 L787.05,445.66 L788.40,445.70 L789.75,445.75 L791.10,445.80" fill="none" stroke="#00fdff" stroke-width="2.05" stroke-dasharray="28.82 11.53 5.76 11.53"/>
<path d="M228.73,27.50 L229.58,30.32 L230.93,34.74 L232.28,39.10 L233.63,43.42 L234.98,47.69 L236.33,51.90 L237.68,56.06 L239.03,60.17 L240.38,64.22 L241.73,68.22 L243.08,72.17 L244.43,76.06 L245.78,79.89 L247.13,83.67 L248.48,87.39 L249.83,91.06 L251.18,94.66 L252.53,98.20 L253.88,101.69 L255.23,105.12 L256.58,108.49 L257.93,111.80 L259.28,115.05 L260.63,118.25 L261.98,121.39 L263.33,124.48 L264.68,127.51 L266.03,130.49 L267.38,133.42 L268.73,136.29 L270.08,139.11 L271.43,141.88 L272.78,144.60 L274.13,147.27 L275.48,149.89 L276.83,152.46 L278.18,154.99 L279.53,157.46 L280.88,159.89 L282.23,162.27 L283.58,164.61 L284.93,166.90 L286.27,169.14 L287.62,171.34 L288.97,173.50 L290.32,175.62 L291.67,177.69 L293.02,179.72 L294.37,181.72 L295.72,183.67 L297.07,185.58 L298.42,187.45 L299.77,189.28 L301.12,191.08 L302.47,192.84 L303.82,194.56 L305.17,196.25 L306.52,197.90 L307.87,199.51 L309.22,201.09 L310.57,202.64 L311.92,204.16 L313.27,205.64 L314.62,207.09 L315.97,208.51 L317.32,209.90 L318.67,211.26 L320.02,212.59 L321.37,213.89 L322.72,215.17 L324.07,216.42 L325.42,217.64 L326.77,218.83 L328.12,220.00 L329.47,221.14 L330.82,222.26 L332.17,223.36 L333.52,224.43 L334.87,225.48 L336.22,226.51 L337.57,227.51 L338.92,228.50 L340.27,229.47 L341.62,230.41 L342.97,231.34 L344.32,232.25 L345.67,233.14 L347.02,234.02 L348.37,234.88 L349.72,235.72 L351.07,236.55 L352.42,237.36 L353.76,238.16 L355.11,238.95 L356.46,239.72 L357.81,240.49 L359.16,241.24 L360.51,241.98 L361.86,242.71 L363.21,243.43 L364.56,244.14 L365.91,244.84 L367.26,245.54 L368.61,246.23 L369.96,246.91 L371.31,247.58 L372.66,248.25 L374.01,248.92 L375.36,249.58 L376.71,250.24 L378.06,250.90 L379.41,251.55 L380.76,252.20 L382.11,252.85 L383.46,253.50 L384.81,254.16 L386.16,254.81 L387.51,255.46 L388.86,256.12 L390.21,256.77 L391.56,257.43 L392.91,258.09 L394.26,258.76 L395.61,259.42 L396.96,260.09 L398.31,260.75 L399.66,261.42 L401.01,262.09 L402.36,262.76 L403.71,263.43 L405.06,264.11 L406.41,264.78 L407.76,265.46 L409.11,266.13 L410.46,266.81 L411.81,267.49 L413.16,268.17 L414.51,268.84 L415.86,269.52 L417.21,270.21 L418.56,270.89 L419.91,271.57 L421.25,272.25 L422.60,272.93 L423.95,273.61 L425.30,274.30 L426.65,274.98 L428.00,275.66 L429.35,276.34 L430.70,277.03 L432.05,277.71 L433.40,278.39 L434.75,279.07 L436.10,279.76 L437.45,280.44 L438.80,281.12 L440.15,281.80 L441.50,282.48 L442.85,283.16 L444.20,283.84 L445.55,284.52 L446.90,285.19 L448.25,285.87 L449.60,286.54 L450.95,287.22 L452.30,287.89 L453.65,288.56 L455.00,289.24 L456.35,289.91 L457.70,290.57 L459.05,291.24 L460.40,291.91 L461.75,292.57 L463.10,293.23 L464.45,293.89 L465.80,294.55 L467.15,295.21 L468.50,295.87 L469.85,296.52 L471.20,297.17 L472.55,297.82 L473.90,298.47 L475.25,299.12 L476.60,299.76 L477.95,300.40 L479.30,301.04 L480.65,301.68 L482.00,302.31 L483.35,302.95 L484.70,303.58 L486.05,304.20 L487.40,304.83 L488.74,305.45 L490.09,306.07 L491.44,306.68 L492.79,307.30 L494.14,307.91 L495.49,308.51 L496.84,309.12 L498.19,309.72 L499.54,310.32 L500.89,310.91 L502.24,311.50 L503.59,312.09 L504.94,312.67 L506.29,313.25 L507.64,313.83 L508.99,314.40 L510.34,314.97 L511.69,315.54 L513.04,316.10 L514.39,316.66 L515.74,317.21 L517.09,317.76 L518.44,318.31 L519.79,318.85 L521.14,319.39 L522.49,319.92 L523.84,320.45 L525.19,320.97 L526.54,321.49 L527.89,322.01 L529.24,322.52 L530.59,323.03 L531.94,323.53 L533.29,324.03 L534.64,324.53 L535.99,325.02 L537.34,325.51 L538.69,325.99 L540.04,326.47 L541.39,326.95 L542.74,327.42 L544.09,327.89 L545.44,328.36 L546.79,328.82 L548.14,329.28 L549.49,329.73 L550.84,330.19 L552.19,330.63 L553.54,331.08 L554.89,331.52 L556.23,331.96 L557.58,332.39 L558.93,332.82 L560.28,333.25 L561.63,333.67 L562.98,334.09 L564.33,334.51 L565.68,334.93 L567.03,335.34 L568.38,335.75 L569.73,336.15 L571.08,336.56 L572.43,336.96 L573.78,337.35 L575.13,337.75 L576.48,338.14 L577.83,338.53 L579.18,338.91 L580.53,339.30 L581.88,339.68 L583.23,340.06 L584.58,340.43 L585.93,340.81 L587.28,341.18 L588.63,341.54 L589.98,341.91 L591.33,342.27 L592.68,342.63 L594.03,342.99 L595.38,343.35 L596.73,343.70 L598.08,344.05 L599.43,344.40 L600.78,344.75 L602.13,345.10 L603.48,345.44 L604.83,345.78 L606.18,346.12 L607.53,346.46 L608.88,346.79 L610.23,347.13 L611.58,347.46 L612.93,347.79 L614.28,348.12 L615.63,348.44 L616.98,348.77 L618.33,349.09 L619.68,349.41 L621.03,349.73 L622.38,350.05 L623.72,350.37 L625.07,350.69 L626.42,351.00 L627.77,351.31 L629.12,351.63 L630.47,351.94 L631.82,352.25 L633.17,352.55 L634.52,352.86 L635.87,353.17 L637.22,353.47 L638.57,353.77 L639.92,354.08 L641.27,354.38 L642.62,354.68 L643.97,354.98 L645.32,355.28 L646.67,355.58 L648.02,355.87 L649.37,356.17 L650.72,356.46 L652.07,356.76 L653.42,357.05 L654.77,357.35 L656.12,357.64 L657.47,357.93 L658.82,358.23 L660.17,358.52 L661.52,358.81 L662.87,359.10 L664.22,359.39 L665.57,359.68 L666.92,359.97 L668.27,360.26 L669.62,360.55 L670.97,360.83 L672.32,361.12 L673.67,361.41 L675.02,361.69 L676.37,361.98 L677.72,362.27 L679.07,362.55 L680.42,362.84 L681.77,363.12 L683.12,363.40 L684.47,363.69 L685.82,363.97 L687.17,364.25 L688.52,364.53 L689.87,364.82 L691.21,365.10 L692.56,365.38 L693.91,365.66 L695.26,365.94 L696.61,366.22 L697.96,366.50 L699.31,366.78 L700.66,367.06 L702.01,367.33 L703.36,367.61 L704.71,367.89 L706.06,368.17 L707.41,368.45 L708.76,368.72 L710.11,369.00 L711.46,369.27 L712.81,369.55 L714.16,369.83 L715.51,370.10 L716.86,370.38 L718.21,370.65 L719.56,370.93 L720.91,371.20 L722.26,371.47 L723.61,371.75 L724.96,372.02 L726.31,372.29 L727.66,372.57 L729.01,372.84 L730.36,373.11 L731.71,373.38 L733.06,373.65 L734.41,373.93 L735.76,374.20 L737.11,374.47 L738.46,374.74 L739.81,375.01 L741.16,375.28 L742.51,375.55 L743.86,375.82 L745.21,376.09 L746.56,376.36 L747.91,376.63 L749.26,376.90 L750.61,377.17 L751.96,377.44 L753.31,377.71 L754.66,377.98 L756.01,378.25 L757.36,378.51 L758.70,378.78 L760.05,379.05 L761.40,379.32 L762.75,379.59 L764.10,379.86 L765.45,380.12 L766.80,380.39 L768.15,380.66 L769.50,380.93 L770.85,381.19 L772.20,381.46 L773.55,381.73 L774.90,382.00 L776.25,382.26 L777.60,382.53 L778.95,382.80 L780.30,383.06 L781.65,383.33 L783.00,383.60 L784.35,383.87 L785.70,384.13 L787.05,384.40 L788.40,384.67 L789.75,384.93 L791.10,385.20" fill="none" stroke="#ff40ff" stroke-width="2.05" stroke-dasharray="5.76 8.65"/>
<circle cx="117.55" cy="281.50" r="3.7" fill="#ff2600"/>
<circle cx="252.26" cy="439.10" r="3.7" fill="#ff2600"/>
<circle cx="386.97" cy="478.40" r="3.7" fill="#ff2600"/>
<circle cx="521.68" cy="498.00" r="3.7" fill="#ff2600"/>
<circle cx="656.39" cy="508.40" r="3.7" fill="#ff2600"/>
<circle cx="117.55" cy="243.40" r="3.7" fill="#00f900"/>
<circle cx="252.26" cy="408.50" r="3.7" fill="#00f900"/>
<circle cx="386.97" cy="455.90" r="3.7" fill="#00f900"/>
<circle cx="521.68" cy="478.10" r="3.7" fill="#00f900"/>
<circle cx="656.39" cy="496.00" r="3.7" fill="#00f900"/>
<circle cx="791.10" cy="506.70" r="3.7" fill="#00f900"/>
<circle cx="117.55" cy="75.60" r="3.7" fill="#000000"/>
<circle cx="252.26" cy="347.10" r="3.7" fill="#000000"/>
<circle cx="386.97" cy="415.30" r="3.7" fill="#000000"/>
<circle cx="521.68" cy="454.20" r="3.7" fill="#000000"/>
<circle cx="656.39" cy="473.70" r="3.7" fill="#000000"/>
<circle cx="791.10" cy="487.20" r="3.7" fill="#000000"/>
<circle cx="252.26" cy="239.70" r="3.7" fill="#00fdff"/>
<circle cx="386.97" cy="348.10" r="3.7" fill="#00fdff"/>
<circle cx="521.68" cy="396.50" r="3.7" fill="#00fdff"/>
<circle cx="656.39" cy="434.80" r="3.7" fill="#00fdff"/>
<circle cx="791.10" cy="445.80" r="3.7" fill="#00fdff"/>
<circle cx="252.26" cy="97.50" r="3.7" fill="#ff40ff"/>
<circle cx="386.97" cy="255.20" r="3.7" fill="#ff40ff"/>
<circle cx="521.68" cy="319.60" r="3.7" fill="#ff40ff"/>
<circle cx="656.39" cy="357.70" r="3.7" fill="#ff40ff"/>
<circle cx="791.10" cy="385.20" r="3.7" fill="#ff40ff"/>
<path d="M700.6,46.2 L763.6,46.2" fill="none" stroke="#ff2600" stroke-width="2.05"/>
<path d="M700.6,69.30000000000001 L763.6,69.30000000000001" fill="none" stroke="#00f900" stroke-width="2.05" stroke-dasharray="23.06 11.53"/>
<path d="M700.6,92.4 L763.6,92.4" fill="none" stroke="#000000" stroke-width="3.5" stroke-dasharray="4.61 9.22"/>
<path d="M700.6,115.50000000000001 L763.6,115.50000000000001" fill="none" stroke="#00fdff" stroke-width="2.05" stroke-dasharray="28.82 11.53 5.76 11.53"/>
<path d="M700.6,138.60000000000002 L763.6,138.60000000000002" fill="none" stroke="#ff40ff" stroke-width="2.05" stroke-dasharray="5.76 8.65"/>
<rect x="117.55" y="27.5" width="673.55" height="484.25" fill="none" stroke="#000" stroke-width="3.7"/>
</svg>
<div id="txt" style="position:absolute;left:0;top:0;width:830px;height:581px;will-change:transform">
<div class="t r" style="transform:translate(-96.30px,519.55px) rotate(0.03deg) scale(1,1.043) translate(0,-23.0px)">0.5</div>
<div class="t r" style="transform:translate(-96.30px,465.74px) rotate(0.03deg) scale(1,1.043) translate(0,-23.0px)">1</div>
<div class="t r" style="transform:translate(-96.30px,411.94px) rotate(0.03deg) scale(1,1.043) translate(0,-23.0px)">1.5</div>
<div class="t r" style="transform:translate(-96.30px,358.13px) rotate(0.03deg) scale(1,1.043) translate(0,-23.0px)">2</div>
<div class="t r" style="transform:translate(-96.30px,304.33px) rotate(0.03deg) scale(1,1.043) translate(0,-23.0px)">2.5</div>
<div class="t r" style="transform:translate(-96.30px,250.52px) rotate(0.03deg) scale(1,1.043) translate(0,-23.0px)">3</div>
<div class="t r" style="transform:translate(-96.30px,196.72px) rotate(0.03deg) scale(1,1.043) translate(0,-23.0px)">3.5</div>
<div class="t r" style="transform:translate(-96.30px,142.91px) rotate(0.03deg) scale(1,1.043) translate(0,-23.0px)">4</div>
<div class="t r" style="transform:translate(-96.30px,89.11px) rotate(0.03deg) scale(1,1.043) translate(0,-23.0px)">4.5</div>
<div class="t r" style="transform:translate(-96.30px,35.30px) rotate(0.03deg) scale(1,1.043) translate(0,-23.0px)">5</div>
<div class="t c" style="transform:translate(20.85px,542.70px) rotate(0.03deg) scale(1,1.043) translate(0,-23.0px)">0.5</div>
<div class="t c" style="transform:translate(155.56px,542.70px) rotate(0.03deg) scale(1,1.043) translate(0,-23.0px)">1</div>
<div class="t c" style="transform:translate(290.27px,542.70px) rotate(0.03deg) scale(1,1.043) translate(0,-23.0px)">1.5</div>
<div class="t c" style="transform:translate(424.98px,542.70px) rotate(0.03deg) scale(1,1.043) translate(0,-23.0px)">2</div>
<div class="t c" style="transform:translate(559.69px,542.70px) rotate(0.03deg) scale(1,1.043) translate(0,-23.0px)">2.5</div>
<div class="t c" style="transform:translate(694.40px,542.70px) rotate(0.03deg) scale(1,1.043) translate(0,-23.0px)">3</div>
<div class="t" style="transform:translate(349.20px,576.80px) rotate(0.03deg) scale(1,1.043) translate(0,-23.0px)">E<span class="d">·</span>t (10<sup>5</sup>m<sup>2</sup>deg<sup>2</sup>hour)</div>
<div class="t" style="transform:translate(28.5px,289.4px) rotate(-90deg) scale(1,1.043) translate(0px,-23.00px)">L/L<sub>*</sub></div>
<div class="t" style="transform:translate(584.20px,54.30px) rotate(0.03deg) scale(1,1.043) translate(0,-23.0px)">0.4&gt;z&gt;0.5</div>
<div class="t" style="transform:translate(584.20px,77.40px) rotate(0.03deg) scale(1,1.043) translate(0,-23.0px)">0.5&gt;z&gt;0.6</div>
<div class="t" style="transform:translate(584.20px,100.50px) rotate(0.03deg) scale(1,1.043) translate(0,-23.0px)">0.6&gt;z&gt;0.7</div>
<div class="t" style="transform:translate(584.20px,123.60px) rotate(0.03deg) scale(1,1.043) translate(0,-23.0px)">0.7&gt;z&gt;0.8</div>
<div class="t" style="transform:translate(584.20px,146.70px) rotate(0.03deg) scale(1,1.043) translate(0,-23.0px)">0.8&gt;z&gt;0.9</div>
</div>
</body></html>
